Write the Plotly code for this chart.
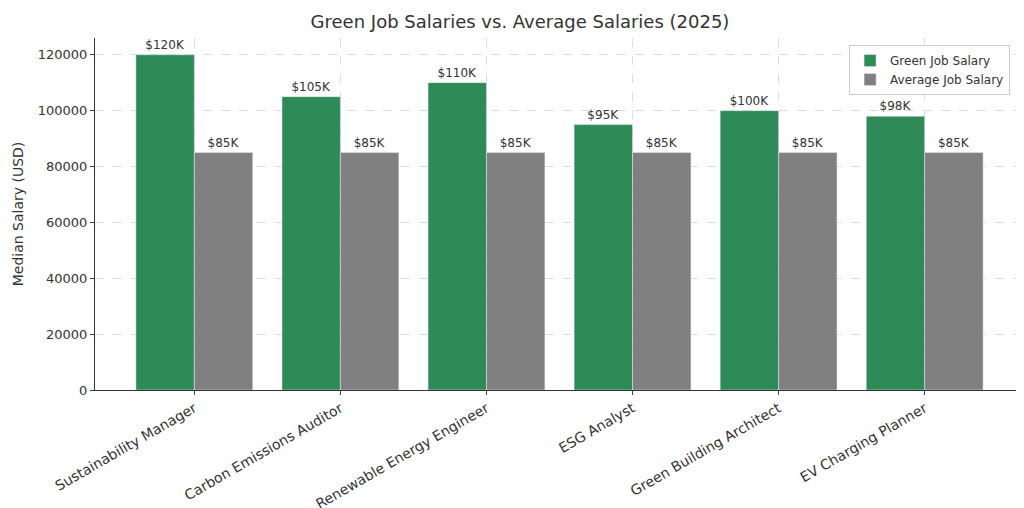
import plotly.graph_objects as go

# chart data
jobs = ['Sustainability Manager', 'Carbon Emissions Auditor', 'Renewable Energy Engineer',
        'ESG Analyst', 'Green Building Architect', 'EV Charging Planner']
green_salary = [120000, 105000, 110000, 95000, 100000, 98000]
avg_salary = [85000, 85000, 85000, 85000, 85000, 85000]
green_labels = ['$120K', '$105K', '$110K', '$95K', '$100K', '$98K']
avg_labels = ['$85K'] * 6

fig = go.Figure()
fig.add_trace(go.Bar(x=jobs, y=green_salary, name='Green Job Salary', marker_color='#2e8b57',
                     text=green_labels, textposition='outside', cliponaxis=False,
                     textfont=dict(size=12, color='#333')))
fig.add_trace(go.Bar(x=jobs, y=avg_salary, name='Average Job Salary', marker_color='#808080',
                     text=avg_labels, textposition='outside', cliponaxis=False,
                     textfont=dict(size=12, color='#333')))

fig.update_layout(
    width=1024, height=508,
    barmode='group', bargap=0.2, bargroupgap=0,
    font=dict(family='DejaVu Sans', color='#333'),
    title=dict(text='Green Job Salaries vs. Average Salaries (2025)', x=0.5, xanchor='center',
               y=0.985, yanchor='top', font=dict(size=18), automargin=False),
    plot_bgcolor='white', paper_bgcolor='white',
    margin=dict(l=87, r=8, t=30, b=126, autoexpand=False),
    uniformtext=dict(minsize=12, mode='show'),
    legend=dict(x=0.985, y=0.98, xanchor='right', yanchor='top', bgcolor='white',
                bordercolor='#ccc', borderwidth=1, font=dict(size=12)),
    xaxis=dict(range=[-0.68, 5.68], tickangle=-30, tickfont=dict(size=14), automargin=False,
               showgrid=True, gridcolor='#ddd', griddash='dash', showline=True,
               linecolor='#333', ticks='outside', ticklen=4),
    yaxis=dict(range=[0, 126000], dtick=20000, tickformat='d', tickfont=dict(size=13),
               automargin=False,
               title=dict(text='Median Salary (USD)', font=dict(size=14), standoff=10),
               showgrid=True, gridcolor='#ddd', griddash='dash', showline=True,
               linecolor='#333', ticks='outside', ticklen=4, zeroline=False),
)

fig.write_html("out.html")
